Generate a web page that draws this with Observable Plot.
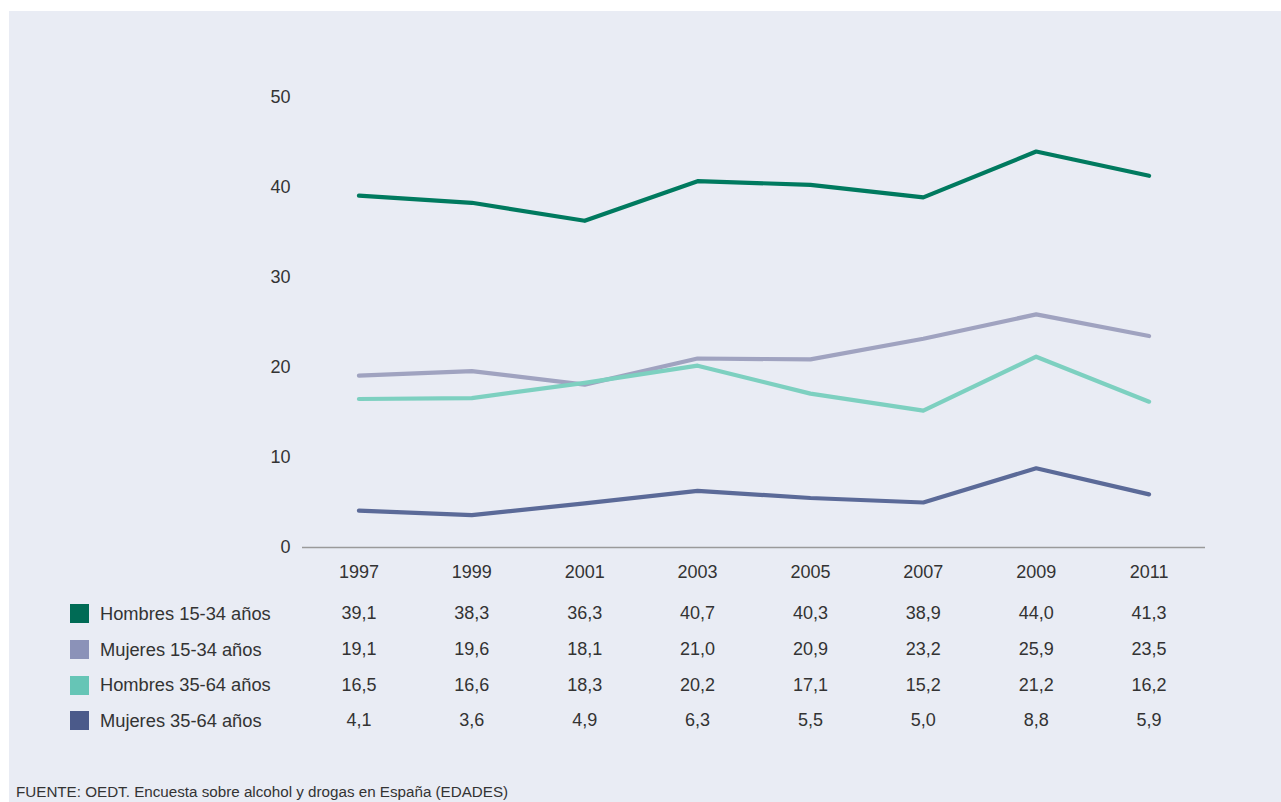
<!DOCTYPE html>
<html>
<head>
<meta charset="utf-8">
<script src="https://cdn.jsdelivr.net/npm/d3@7"></script>
<script src="https://cdn.jsdelivr.net/npm/@observablehq/plot@0.6"></script>
<style>
  html, body { margin: 0; padding: 0; background: #ffffff; }
  body { width: 1281px; height: 802px; position: relative; overflow: hidden; font-family: "Liberation Sans", Arial, sans-serif; }
  #panel { position: absolute; left: 9px; top: 11px; width: 1272px; height: 791px; background: #e9ecf4; }
  #chart { position: absolute; left: 0; top: 0; }
  #legend { position: absolute; left: 70px; top: 596px; }
  .row { height: 35.7px; display: flex; align-items: center; font-size: 18.3px; color: #333; }
  .sw { width: 19px; height: 19px; margin-right: 11px; }
  #source { position: absolute; left: 16px; top: 783px; font-size: 15.2px; color: #333; }
</style>
</head>
<body>
<div id="panel"></div>
<div id="chart"></div>
<div id="legend"></div>
<div id="source">FUENTE: OEDT. Encuesta sobre alcohol y drogas en España (EDADES)</div>
<script>
const years = ["1997", "1999", "2001", "2003", "2005", "2007", "2009", "2011"];
const seriesNames = ["Hombres 15-34 años", "Mujeres 15-34 años", "Hombres 35-64 años", "Mujeres 35-64 años"];
const hombres1534 = [39.1, 38.3, 36.3, 40.7, 40.3, 38.9, 44.0, 41.3];
const mujeres1534 = [19.1, 19.6, 18.1, 21.0, 20.9, 23.2, 25.9, 23.5];
const hombres3564 = [16.5, 16.6, 18.3, 20.2, 17.1, 15.2, 21.2, 16.2];
const mujeres3564 = [4.1, 3.6, 4.9, 6.3, 5.5, 5.0, 8.8, 5.9];
const yTicks = [0, 10, 20, 30, 40, 50];
const lineColors = ["#007a5f", "#a0a3c0", "#7dd0c0", "#5b6a98"];
const swatchColors = ["#006b55", "#8b92b8", "#66c5b6", "#4b5a8a"];

const valuesList = [hombres1534, mujeres1534, hombres3564, mujeres3564];
const data = [];
valuesList.forEach((vals, si) => {
  vals.forEach((v, i) => data.push({ series: seriesNames[si], year: years[i], value: v, idx: si }));
});
const fmt = v => v.toFixed(1).replace(".", ",");

const tableMarks = valuesList.map((vals, si) =>
  Plot.text(years.map((y, i) => ({ year: y, value: vals[i] })), {
    x: "year",
    y: () => 0,
    text: d => fmt(d.value),
    dy: 66 + si * 35.7,
    fontSize: 18,
    fill: "#333"
  })
);

const plot = Plot.plot({
  width: 1281,
  height: 760,
  marginLeft: 302,
  marginRight: 76,
  marginTop: 97,
  marginBottom: 213,
  style: { background: "transparent", fontFamily: "Liberation Sans, Arial, sans-serif", fontSize: "18px", color: "#333" },
  x: { type: "point", domain: years, padding: 0.5, round: false, label: null },
  y: { domain: [0, 50], label: null },
  marks: [
    Plot.axisY(yTicks, { tickSize: 0, tickPadding: 12, fontSize: 18, label: null }),
    Plot.axisX(years, { tickSize: 0, tickPadding: 18, fontSize: 18, label: null }),
    Plot.ruleY([0], { stroke: "#9a9a9a", strokeWidth: 1.5 }),
    Plot.line(data, {
      x: "year", y: "value", z: "series",
      stroke: d => lineColors[d.idx],
      strokeWidth: 4.2,
      strokeLinecap: "round",
      strokeLinejoin: "round"
    }),
    ...tableMarks
  ]
});
document.getElementById("chart").appendChild(plot);

const legend = document.getElementById("legend");
seriesNames.forEach((name, i) => {
  const row = document.createElement("div");
  row.className = "row";
  const sw = document.createElement("div");
  sw.className = "sw";
  sw.style.background = swatchColors[i];
  const lab = document.createElement("span");
  lab.textContent = name;
  row.appendChild(sw);
  row.appendChild(lab);
  legend.appendChild(row);
});
</script>
</body>
</html>
